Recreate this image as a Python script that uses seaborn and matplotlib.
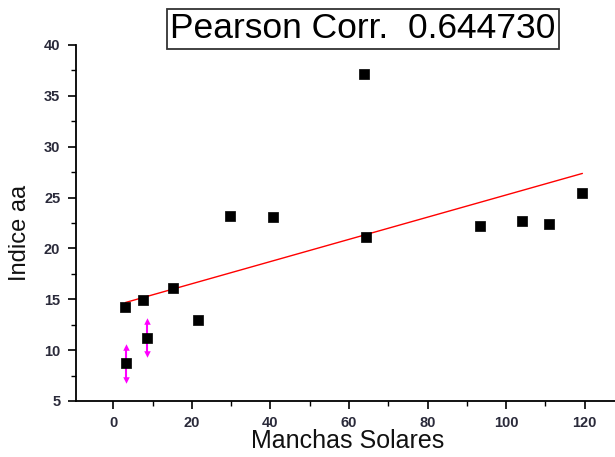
import numpy as np
import pandas as pd
import matplotlib
matplotlib.use("Agg")
import matplotlib.pyplot as plt
import seaborn as sns
from matplotlib.ticker import MultipleLocator

# Data
manchas = [3.1, 3.3, 7.6, 8.7, 15.3, 21.6, 29.8, 40.6, 63.7, 64.4, 93.3, 104.0, 110.9, 119.4]
indice = [14.24, 8.70, 14.96, 11.22, 16.14, 12.99, 23.22, 23.09, 37.15, 21.15, 22.23, 22.72, 22.37, 25.48]
err_x = [3.3, 8.7]
err_y = [8.70, 11.22]
err_val = [1.6, 1.6]
title_text = "Pearson Corr.  0.644730"
xlabel = "Manchas Solares"
ylabel = "Indice aa"

df = pd.DataFrame({"x": manchas, "y": indice})

sns.set_theme(style="ticks")
plt.rcParams['font.family'] = ['Liberation Sans', 'DejaVu Sans']

fig = plt.figure(figsize=(6.15, 4.57), dpi=100)
ax = fig.add_axes([75.6 / 615, (457 - 401) / 457, (615 - 75.6) / 615, (401 - 45) / 457])

# regression line
sns.regplot(data=df, x="x", y="y", ax=ax, scatter=False, ci=None, truncate=True,
            line_kws=dict(color="red", lw=1.0))

# error bars with arrow heads
ey = np.array(err_y)
ee = np.array(err_val)
ax.errorbar(err_x, err_y, yerr=err_val, fmt="none", ecolor="#ff00ff", elinewidth=1.5, capsize=0, zorder=3)
ax.scatter(err_x, ey + ee, marker="^", s=22, color="#ff00ff", zorder=3, linewidths=0)
ax.scatter(err_x, ey - ee, marker="v", s=22, color="#ff00ff", zorder=3, linewidths=0)

# points
sns.scatterplot(data=df, x="x", y="y", ax=ax, marker="s", s=55, color="black",
                edgecolor="black", linewidth=0.5, zorder=4)

ax.set_xlim(-9.6, 127.7)
ax.set_ylim(5, 40)
ax.xaxis.set_major_locator(MultipleLocator(20))
ax.xaxis.set_minor_locator(MultipleLocator(10))
ax.yaxis.set_major_locator(MultipleLocator(5))
ax.yaxis.set_minor_locator(MultipleLocator(2.5))
ax.tick_params(which="major", direction="out", length=6, width=1.2, color="black",
               labelsize=10.5, labelcolor="#2a2a3a", pad=5)
ax.tick_params(which="minor", direction="out", length=3.5, width=1.0, color="black")
for lab in ax.get_xticklabels() + ax.get_yticklabels():
    lab.set_fontweight("bold")

sns.despine(ax=ax)
ax.spines["left"].set_linewidth(1.3)
ax.spines["bottom"].set_linewidth(1.3)
ax.spines["left"].set_color("black")
ax.spines["bottom"].set_color("black")

ax.set_xlabel(xlabel, fontsize=18, color="#111111")
ax.set_ylabel(ylabel, fontsize=17, color="#111111")
ax.xaxis.set_label_coords(0.504, -0.080)
ax.yaxis.set_label_coords(-0.082, 0.472)

fig.text(363 / 615, 1 - 29 / 457, title_text, fontsize=25.5, ha="center", va="center",
         color="black",
         bbox=dict(boxstyle="square,pad=0.1", facecolor="white", edgecolor="#333333", lw=1.3))

fig.savefig("out.png", dpi=100)
